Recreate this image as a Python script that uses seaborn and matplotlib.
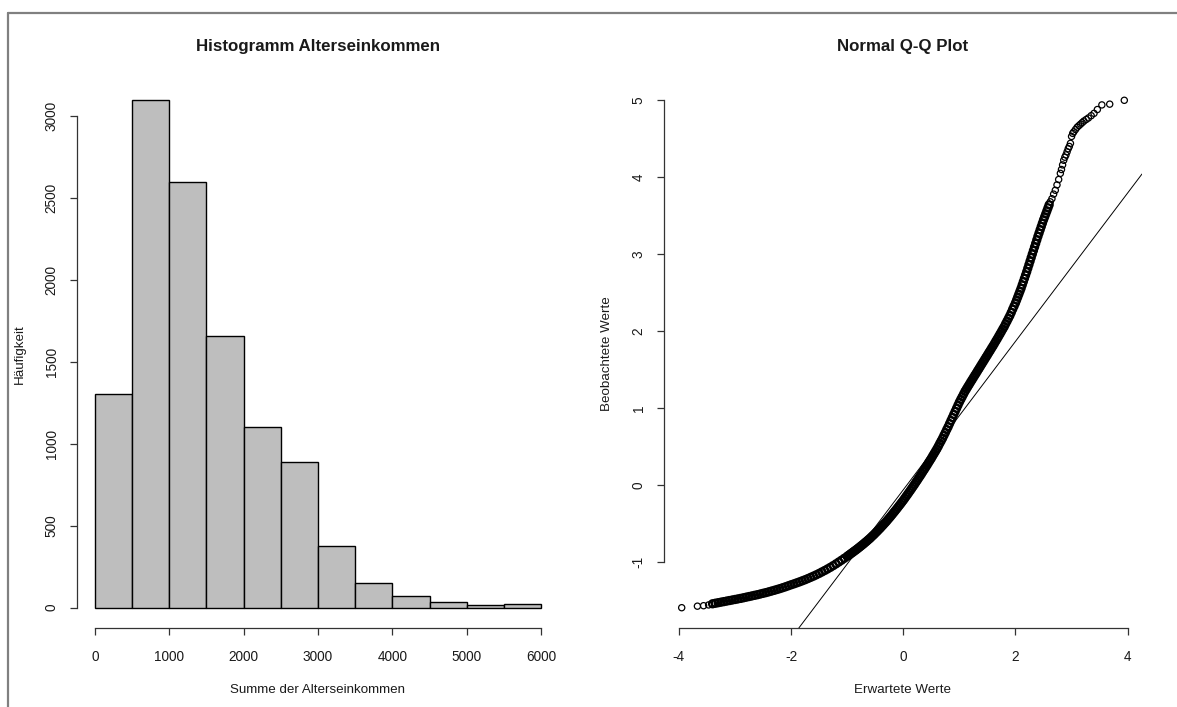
import matplotlib
matplotlib.use("Agg")
import matplotlib.pyplot as plt
from matplotlib.lines import Line2D
import seaborn as sns

# ---- Histogram: income sums, bins of 500 ----
bin_edges = [0, 500, 1000, 1500, 2000, 2500, 3000, 3500, 4000, 4500, 5000, 5500, 6000]
bin_mids = [250, 750, 1250, 1750, 2250, 2750, 3250, 3750, 4250, 4750, 5250, 5750]
bin_counts = [1305, 3098, 2598, 1659, 1104, 890, 378, 152, 73, 37, 18, 24]
hist_xticks = [0, 1000, 2000, 3000, 4000, 5000, 6000]
hist_yticks = [0, 500, 1000, 1500, 2000, 2500, 3000]

# ---- Normal Q-Q plot: theoretical quantiles vs. standardised observations ----
qq_theoretical = [
    -3.95, -3.67, -3.56, -3.47,
    -3.40, -3.35, -3.30, -3.25, -3.20, -3.15, -3.10, -3.05, -3.00, -2.95,
    -2.90, -2.85, -2.80, -2.75, -2.70, -2.65, -2.60, -2.55, -2.50, -2.45,
    -2.40, -2.35, -2.30, -2.25, -2.20, -2.15, -2.10, -2.05,
    -2.00, -1.95, -1.90, -1.85, -1.80, -1.75, -1.70, -1.65, -1.60, -1.55,
    -1.50, -1.45, -1.40, -1.35, -1.30, -1.25, -1.20, -1.15, -1.10, -1.05,
    -1.000, -0.975, -0.950, -0.925, -0.900, -0.875, -0.850, -0.825,
    -0.800, -0.775, -0.750, -0.725, -0.700, -0.675, -0.650, -0.625,
    -0.600, -0.575, -0.550, -0.525, -0.500, -0.475, -0.450, -0.425,
    -0.400, -0.375, -0.350, -0.325, -0.300, -0.275, -0.250, -0.225,
    -0.200, -0.175, -0.150, -0.125, -0.100, -0.075, -0.050, -0.025,
    0.000, 0.025, 0.050, 0.075, 0.100, 0.125, 0.150, 0.175,
    0.200, 0.225, 0.250, 0.275, 0.300, 0.325, 0.350, 0.375,
    0.400, 0.425, 0.450, 0.475, 0.500, 0.525, 0.550, 0.575,
    0.600, 0.625, 0.650, 0.675, 0.700, 0.725, 0.750, 0.775,
    0.800, 0.825, 0.850, 0.875, 0.900, 0.925, 0.950, 0.975,
    1.000, 1.025, 1.050, 1.075, 1.100, 1.125, 1.150, 1.175,
    1.200, 1.225, 1.250, 1.275, 1.300, 1.325, 1.350, 1.375,
    1.400, 1.425, 1.450, 1.475, 1.500, 1.525, 1.550, 1.575,
    1.600, 1.625, 1.650, 1.675, 1.700, 1.725, 1.750, 1.775,
    1.800, 1.825, 1.850, 1.875, 1.900, 1.925, 1.950, 1.975,
    2.00, 2.02, 2.04, 2.06, 2.08, 2.10, 2.12, 2.14, 2.16, 2.18,
    2.20, 2.22, 2.24, 2.26, 2.28, 2.30, 2.32, 2.34, 2.36, 2.38,
    2.40, 2.42, 2.44, 2.46, 2.48, 2.50, 2.52, 2.54, 2.56, 2.58, 2.60,
    2.62, 2.65, 2.68, 2.71, 2.74, 2.77, 2.80, 2.82, 2.84, 2.86,
    2.88, 2.90, 2.92, 2.94, 2.96, 2.98, 3.00, 3.02, 3.04, 3.07,
    3.10, 3.13, 3.16, 3.19, 3.22, 3.26, 3.30, 3.35, 3.40, 3.46,
    3.54, 3.68, 3.94,
]
qq_observed = [
    -1.598, -1.578, -1.572, -1.562,
    -1.547, -1.540, -1.533, -1.526, -1.519, -1.512, -1.505, -1.498, -1.491, -1.484,
    -1.477, -1.469, -1.461, -1.453, -1.445, -1.437, -1.429, -1.420, -1.411, -1.402,
    -1.392, -1.382, -1.372, -1.361, -1.350, -1.338, -1.326, -1.313,
    -1.300, -1.288, -1.275, -1.262, -1.248, -1.234, -1.219, -1.203, -1.187, -1.170,
    -1.152, -1.133, -1.114, -1.094, -1.073, -1.051, -1.028, -1.004, -0.980, -0.955,
    -0.930, -0.917, -0.904, -0.890, -0.877, -0.863, -0.850, -0.836,
    -0.822, -0.807, -0.793, -0.778, -0.763, -0.747, -0.732, -0.716,
    -0.700, -0.683, -0.665, -0.648, -0.630, -0.611, -0.593, -0.574,
    -0.555, -0.535, -0.515, -0.495, -0.475, -0.453, -0.432, -0.410,
    -0.388, -0.365, -0.343, -0.320, -0.297, -0.273, -0.250, -0.226,
    -0.202, -0.177, -0.151, -0.126, -0.100, -0.074, -0.048, -0.021,
    0.005, 0.033, 0.060, 0.088, 0.115, 0.143, 0.172, 0.200,
    0.228, 0.257, 0.287, 0.316, 0.345, 0.376, 0.407, 0.437,
    0.468, 0.502, 0.537, 0.571, 0.605, 0.643, 0.680, 0.718,
    0.755, 0.795, 0.835, 0.875, 0.915, 0.955, 0.995, 1.035,
    1.075, 1.110, 1.145, 1.180, 1.215, 1.245, 1.275, 1.305,
    1.335, 1.364, 1.394, 1.423, 1.452, 1.482, 1.511, 1.541,
    1.570, 1.600, 1.629, 1.659, 1.688, 1.718, 1.747, 1.777,
    1.806, 1.837, 1.868, 1.899, 1.930, 1.962, 1.994, 2.026,
    2.058, 2.094, 2.129, 2.165, 2.200, 2.241, 2.283, 2.324,
    2.365, 2.403, 2.441, 2.479, 2.517, 2.555, 2.598, 2.641, 2.684, 2.727,
    2.770, 2.816, 2.862, 2.908, 2.954, 3.000, 3.046, 3.092, 3.138, 3.184,
    3.230, 3.273, 3.316, 3.359, 3.402, 3.445, 3.484, 3.523, 3.562, 3.601, 3.640,
    3.68, 3.72, 3.78, 3.83, 3.90, 3.97, 4.05, 4.10, 4.16, 4.22,
    4.26, 4.29, 4.33, 4.37, 4.40, 4.44, 4.53, 4.57, 4.59, 4.62,
    4.65, 4.67, 4.69, 4.71, 4.73, 4.75, 4.77, 4.80, 4.83, 4.88,
    4.94, 4.95, 5.00,
]
qq_xticks = [-4, -2, 0, 2, 4]
qq_yticks = [-1, 0, 1, 2, 3, 4, 5]
# Reference line through the quartile pairs
qqline_intercept = -0.065
qqline_slope = 0.965

sns.set_style("white")
plt.rcParams["font.family"] = ["Liberation Sans", "DejaVu Sans"]
plt.rcParams["axes.linewidth"] = 0.9
plt.rcParams["xtick.major.width"] = 0.9
plt.rcParams["ytick.major.width"] = 0.9

W, H = 1177, 707
fig = plt.figure(figsize=(W / 100, H / 100), dpi=100)
fig.patch.set_facecolor("white")

# window frame lines (top and left)
fig.add_artist(Line2D([7.5 / W, 1.0], [1 - 12.5 / H, 1 - 12.5 / H],
                      transform=fig.transFigure, color="#808080", lw=1.6))
fig.add_artist(Line2D([7.5 / W, 7.5 / W], [0.0, 1 - 12.5 / H],
                      transform=fig.transFigure, color="#808080", lw=1.6))

ax_top, ax_bot = 80, 628
bottom = 1 - ax_bot / H
height = (ax_bot - ax_top) / H
ax1 = fig.add_axes([77 / W, bottom, (559 - 77) / W, height])
ax2 = fig.add_axes([664 / W, bottom, (1142 - 664) / W, height])

TICK_FS = 9.8
LABEL_FS = 9.6
TITLE_FS = 12.2


def r_style(ax, xt, yt, xlab, ylab, title):
    for side in ("top", "right"):
        ax.spines[side].set_visible(False)
    ax.spines["bottom"].set_bounds(xt[0], xt[-1])
    ax.spines["left"].set_bounds(yt[0], yt[-1])
    ax.spines["bottom"].set_color("#333333")
    ax.spines["left"].set_color("#333333")
    ax.set_xticks(xt)
    ax.set_yticks(yt)
    ax.set_xticklabels([str(v) for v in xt])
    ax.set_yticklabels([str(v) for v in yt], rotation=90, va="center")
    ax.tick_params(axis="both", which="major", direction="out", length=5.2,
                   color="#333333", labelsize=TICK_FS, labelcolor="#1a1a1a",
                   bottom=True, left=True)
    ax.tick_params(axis="x", pad=10.5)
    ax.tick_params(axis="y", pad=8.0)
    ax.set_xlabel(xlab, fontsize=LABEL_FS, color="#1a1a1a")
    ax.set_ylabel(ylab, fontsize=LABEL_FS, color="#1a1a1a")
    ax.xaxis.set_label_coords(0.5, -(690 - ax_bot) / (ax_bot - ax_top))
    ax.xaxis.label.set_va("center")
    ax.set_title(title, fontsize=TITLE_FS, fontweight="bold", color="#1a1a1a",
                 y=1 + (ax_top - 47) / (ax_bot - ax_top), va="center", pad=0)
    ax.grid(False)
    ax.set_facecolor("white")


# ---- left: histogram ----
sns.histplot(x=bin_mids, weights=bin_counts, bins=bin_edges, stat="count",
             color="#bebebe", edgecolor="black", linewidth=1.0, alpha=1.0,
             ax=ax1)
ax1.set_xlim(0 - 0.04 * 6000, 6000 + 0.04 * 6000)
ymax = max(bin_counts)
ax1.set_ylim(-0.04 * ymax, ymax * 1.04)
r_style(ax1, hist_xticks, hist_yticks, "Summe der Alterseinkommen", "Häufigkeit",
        "Histogramm Alterseinkommen")
ax1.yaxis.set_label_coords(-(77 - 20) / (559 - 77), 0.5)
ax1.yaxis.label.set_va("center")

# ---- right: normal Q-Q plot ----
# the crowded middle of the sample overlaps into a solid band; the sparse
# extremes stay as individual open circles
crowded = [i for i, t in enumerate(qq_theoretical) if -3.42 < t <= 2.60]
sparse = [i for i, t in enumerate(qq_theoretical) if not (-3.42 < t <= 2.60)]
sns.scatterplot(x=[qq_theoretical[i] for i in crowded],
                y=[qq_observed[i] for i in crowded],
                marker="o", s=26, facecolor="none", edgecolor="black",
                linewidth=1.6, ax=ax2)
sns.scatterplot(x=[qq_theoretical[i] for i in sparse],
                y=[qq_observed[i] for i in sparse],
                marker="o", s=20, facecolor="none", edgecolor="black",
                linewidth=0.9, ax=ax2)
ax2.axline((0, qqline_intercept), slope=qqline_slope, color="black", lw=0.7)
xr = max(qq_theoretical) - min(qq_theoretical)
yr = max(qq_observed) - min(qq_observed)
ax2.set_xlim(min(qq_theoretical) - 0.04 * xr, max(qq_theoretical) + 0.04 * xr)
ax2.set_ylim(min(qq_observed) - 0.04 * yr, max(qq_observed) + 0.04 * yr)
r_style(ax2, qq_xticks, qq_yticks, "Erwartete Werte", "Beobachtete Werte",
        "Normal Q-Q Plot")
ax2.yaxis.set_label_coords(-(664 - 607) / (1142 - 664), 0.5)
ax2.yaxis.label.set_va("center")

fig.savefig("out.png", dpi=100, facecolor="white")
